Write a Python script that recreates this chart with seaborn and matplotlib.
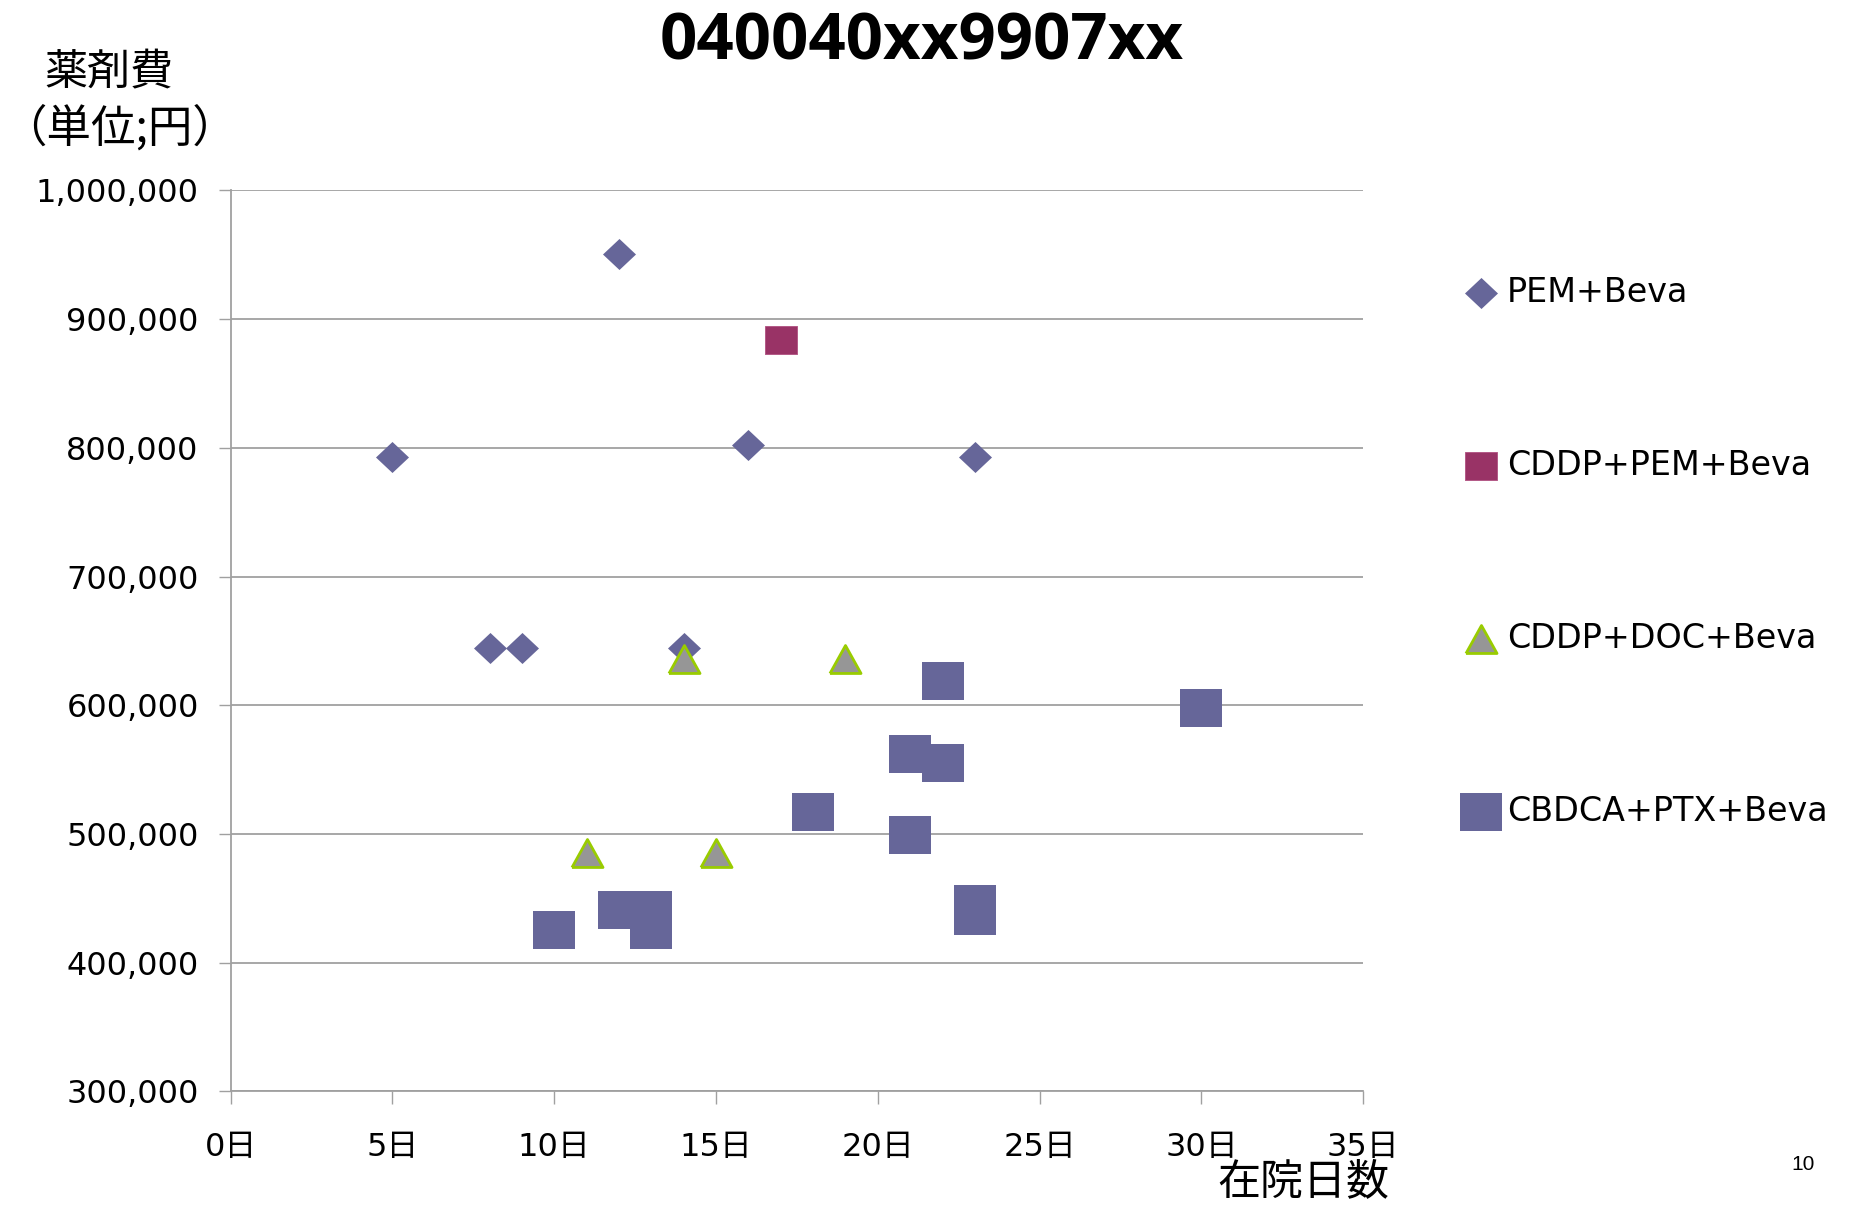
"""Drug cost vs. length of stay scatter for DPC code 040040xx9907xx."""

import matplotlib

matplotlib.use("Agg")

import matplotlib.pyplot as plt
import numpy as np
import pandas as pd
import seaborn as sns
from matplotlib.ticker import FuncFormatter


# --- data ------------------------------------------------------------------
REGIMENS = ["PEM+Beva", "CDDP+PEM+Beva", "CDDP+DOC+Beva", "CBDCA+PTX+Beva"]

PEM_DAYS = [5, 8, 9, 12, 14, 16, 23]
PEM_COST = [793000, 644500, 644500, 950400, 644700, 802000, 793000]

CDDP_PEM_DAYS = [17]
CDDP_PEM_COST = [883500]

CDDP_DOC_DAYS = [11, 14, 15, 19]
CDDP_DOC_COST = [485000, 636000, 485000, 636000]

CBDCA_DAYS = [10, 12, 13, 13, 18, 21, 21, 22, 22, 23, 23, 30]
CBDCA_COST = [425300, 440900, 440900, 425300, 517200, 562200, 499300,
              618800, 555200, 445500, 436200, 597800]

X_TICKS = [0, 5, 10, 15, 20, 25, 30, 35]
Y_TICKS = [300000, 400000, 500000, 600000, 700000, 800000, 900000, 1000000]

TITLE = "040040xx9907xx"
Y_LABEL_TOP = "薬剤費"
Y_LABEL_BOTTOM = "（単位;円）"
X_LABEL = "在院日数"
PAGE_NO = "10"

# --- styling ----------------------------------------------------------------
BLUE = "#666699"
PLUM = "#993366"
GREY = "#969696"
LIME = "#99CC00"
LINE = "#A0A0A0"
LATIN = ["DejaVu Sans", "Noto Sans CJK JP"]
CJK = ["Noto Sans CJK JP", "DejaVu Sans"]


def box(w, h):
    """Closed rectangle marker with the given aspect."""
    return np.array([(-w, -h), (w, -h), (w, h), (-w, h), (-w, -h)])


DIAMOND = np.array([(0, 0.94), (1, 0), (0, -0.94), (-1, 0), (0, 0.94)])
TRIANGLE = np.array([(-1, -0.9), (1, -0.9), (0, 0.9), (-1, -0.9)])

STYLES = {
    "PEM+Beva": dict(marker=DIAMOND, s=565, color=BLUE, edgecolor=BLUE, linewidth=0),
    "CDDP+PEM+Beva": dict(marker=box(1, 0.9), s=500, color=PLUM, edgecolor="#B05080",
                          linewidth=0.6),
    "CDDP+DOC+Beva": dict(marker=TRIANGLE, s=500, color=GREY, edgecolor=LIME,
                          linewidth=2.0),
    "CBDCA+PTX+Beva": dict(marker=box(1, 0.905), s=915, color=BLUE, edgecolor=BLUE,
                           linewidth=0),
}


def build_frame() -> pd.DataFrame:
    """Stack the four regimen series into one long table."""
    parts = [
        (REGIMENS[0], PEM_DAYS, PEM_COST),
        (REGIMENS[1], CDDP_PEM_DAYS, CDDP_PEM_COST),
        (REGIMENS[2], CDDP_DOC_DAYS, CDDP_DOC_COST),
        (REGIMENS[3], CBDCA_DAYS, CBDCA_COST),
    ]
    frames = [pd.DataFrame({"days": d, "cost": c, "regimen": name}) for name, d, c in parts]
    return pd.concat(frames, ignore_index=True)


def main() -> None:
    sns.set_theme(style="white")
    plt.rcParams["font.family"] = CJK
    plt.rcParams["text.color"] = "black"

    df = build_frame()

    fig = plt.figure(figsize=(18.54, 12.06), dpi=100)
    ax = fig.add_axes([0.1244, 0.0950, 0.6109, 0.7471])

    for name in REGIMENS:
        sub = df[df["regimen"] == name]
        sns.scatterplot(data=sub, x="days", y="cost", ax=ax, label=name,
                        zorder=3, **STYLES[name])

    ax.set_xlim(0, 35)
    ax.set_ylim(300000, 1000000)
    ax.set_xticks(X_TICKS)
    ax.set_yticks(Y_TICKS)
    ax.xaxis.set_major_formatter(FuncFormatter(lambda v, _: f"{int(v)}日"))
    ax.yaxis.set_major_formatter(FuncFormatter(lambda v, _: f"{int(v):,}"))

    ax.yaxis.grid(True, color=LINE, linewidth=1.3)
    ax.xaxis.grid(False)
    ax.set_axisbelow(True)
    for side in ("top", "right"):
        ax.spines[side].set_visible(False)
    for side in ("left", "bottom"):
        ax.spines[side].set_color(LINE)
        ax.spines[side].set_linewidth(1.3)

    ax.tick_params(axis="both", direction="out", length=9, width=1.0, color=LINE,
                   labelsize=23, labelcolor="black", bottom=True, left=True)
    ax.tick_params(axis="y", pad=14)
    ax.tick_params(axis="x", pad=20)
    for lbl in ax.get_xticklabels() + ax.get_yticklabels():
        lbl.set_family(LATIN)
    ax.set_xlabel("")
    ax.set_ylabel("")

    leg = ax.legend(loc="upper left", bbox_to_anchor=(0.790, 0.771),
                    bbox_transform=fig.transFigure, frameon=False,
                    prop={"family": LATIN, "size": 24},
                    handlelength=0.96, handletextpad=0.3, labelspacing=4.2,
                    borderpad=0, borderaxespad=0, scatterpoints=1)
    for txt in leg.get_texts():
        txt.set_color("black")

    fig.text(0.497, 0.964, TITLE, ha="center", va="center", fontsize=47,
             fontweight="bold", color="black", family=["Open Sans", "DejaVu Sans"])
    fig.text(0.0588, 0.939, Y_LABEL_TOP, ha="center", va="center", fontsize=31,
             color="black")
    fig.text(0.001, 0.894, Y_LABEL_BOTTOM, ha="left", va="center", fontsize=32,
             color="black")
    fig.text(0.703, 0.0195, X_LABEL, ha="center", va="center", fontsize=31,
             color="black")
    fig.text(0.9725, 0.034, PAGE_NO, ha="center", va="center", fontsize=15,
             color="black", family=["Liberation Sans Narrow", "Liberation Sans"])

    fig.savefig("out.png", dpi=100)
    plt.close(fig)


if __name__ == "__main__":
    main()
